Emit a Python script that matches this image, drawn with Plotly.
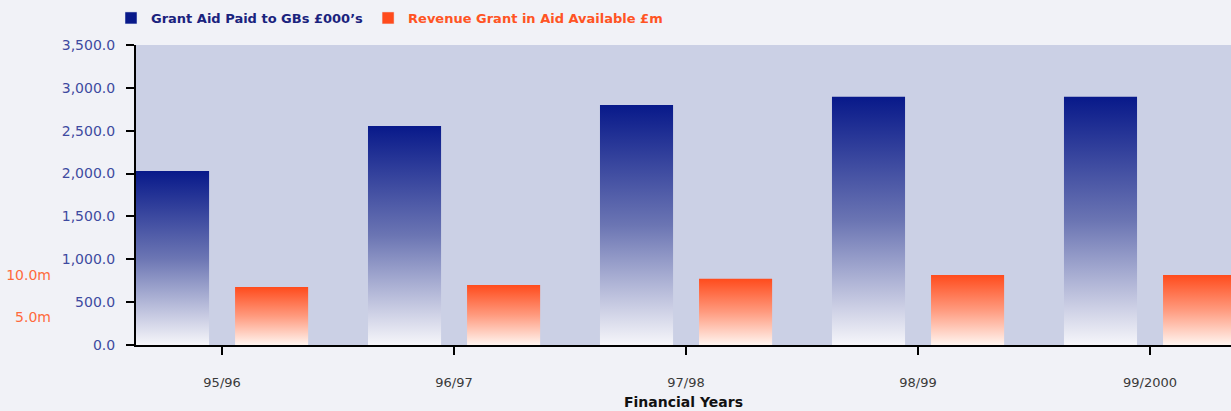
import plotly.graph_objects as go

# ---- data ----
years = ["95/96", "96/97", "97/98", "98/99", "99/2000"]
grant_aid_paid = [2030, 2555, 2800, 2895, 2895]          # £000's (left axis)
revenue_grant = [8.6, 8.85, 9.6, 10.05, 10.05]            # £m (secondary axis)
left_ticks = [0, 500, 1000, 1500, 2000, 2500, 3000, 3500]
right_ticks = [5, 10]

name_blue = "Grant Aid Paid to GBs £000’s"
name_orange = "Revenue Grant in Aid Available £m"

# ---- styling ----
BLUE_TOP, BLUE_MID, BLUE_BOT = "#08198a", "#6b75b3", "#f6f6fa"
OR_TOP, OR_MID, OR_BOT = "#ff4b1c", "#ff9a7e", "#fff5f0"
BAR_W = 0.315
BLUE_OFF = -0.371
OR_OFF = 0.056
Y1_RANGE = [0, 3500]
Y2_RANGE = [1.68, 37.5]

fig = go.Figure()

for i, v in enumerate(grant_aid_paid):
    l, r = i + BLUE_OFF, i + BLUE_OFF + BAR_W
    fig.add_trace(go.Scatter(
        x=[l, r, r, l, l], y=[0, 0, v, v, 0], mode="lines",
        line=dict(width=0), fill="toself", showlegend=False, hoverinfo="skip",
        fillgradient=dict(type="vertical", start=0, stop=v,
                          colorscale=[[0, BLUE_BOT], [0.5, BLUE_MID], [1, BLUE_TOP]]),
    ))

for i, v in enumerate(revenue_grant):
    l, r = i + OR_OFF, i + OR_OFF + BAR_W
    fig.add_trace(go.Scatter(
        x=[l, r, r, l, l], y=[0, 0, v, v, 0], mode="lines", yaxis="y2",
        line=dict(width=0), fill="toself", showlegend=False, hoverinfo="skip",
        fillgradient=dict(type="vertical", start=Y2_RANGE[0], stop=v,
                          colorscale=[[0, OR_BOT], [0.5, OR_MID], [1, OR_TOP]]),
    ))

# legend entries
fig.add_trace(go.Bar(x=[None], y=[None], marker_color="#08198a",
                     name="<b><span style='color:#1a237e'>" + name_blue + "</span></b>"))
fig.add_trace(go.Bar(x=[None], y=[None], marker_color="#ff4b1c",
                     name="<b><span style='color:#ff5424'>" + name_orange + "</span></b>"))

fig.update_layout(
    width=1231, height=411,
    margin=dict(l=136, r=0, t=45, b=66, autoexpand=False),
    paper_bgcolor="#f1f2f7", plot_bgcolor="#cbd0e5",
    font=dict(family="DejaVu Sans", size=14),
    showlegend=True,
    legend=dict(orientation="h", xref="container", yref="container",
                x=111 / 1231, xanchor="left", y=1 - 18 / 411, yanchor="middle",
                font=dict(size=13), bgcolor="rgba(0,0,0,0)", itemclick=False),
    xaxis=dict(
        range=[-0.371, 4.349], tickvals=list(range(len(years))), ticktext=years,
        showgrid=False, zeroline=False, showline=True, linecolor="black", linewidth=2,
        ticks="outside", ticklen=8, tickwidth=2, tickcolor="black",
        tickfont=dict(size=13, color="#3a3a3a"), ticklabelstandoff=16, automargin=False,
        title=dict(text="<b>Financial Years</b>", font=dict(size=14, color="#111111"), standoff=9),
    ),
    yaxis=dict(
        range=Y1_RANGE, tickvals=left_ticks, tickformat=",.1f",
        showgrid=False, zeroline=False, showline=True, linecolor="black", linewidth=2,
        ticks="outside", ticklen=8, tickwidth=2, tickcolor="black",
        tickfont=dict(size=14, color="#3e4aa0"), ticklabelstandoff=8, automargin=False,
    ),
    yaxis2=dict(
        range=Y2_RANGE, overlaying="y", side="left", anchor="x",
        tickvals=right_ticks, ticktext=[f"{t:.1f}m" for t in right_ticks],
        showgrid=False, zeroline=False, showline=False, ticks="",
        tickfont=dict(size=14, color="#ff6a3c"), ticklabelstandoff=84, automargin=False,
    ),
)

fig.write_html("out.html", config={"displayModeBar": False},
               post_script="document.body.style.margin='0';")
